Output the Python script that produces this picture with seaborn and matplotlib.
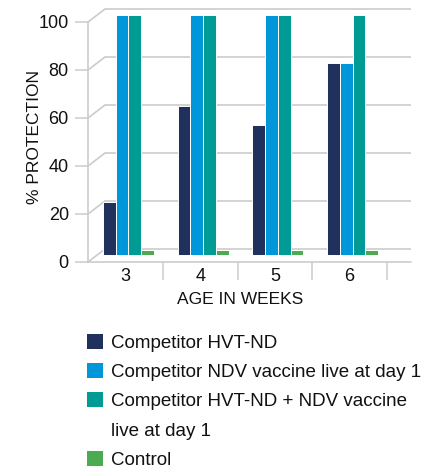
import seaborn as sns
import matplotlib.pyplot as plt
from matplotlib.transforms import offset_copy
from matplotlib.patches import Rectangle
import pandas as pd

# chart values
weeks = ["3", "4", "5", "6"]
series_names = [
    "Competitor HVT-ND",
    "Competitor NDV vaccine live at day 1",
    "Competitor HVT-ND + NDV vaccine live at day 1",
    "Control",
]
hvt_nd = [22, 62, 54, 80]
ndv_live = [100, 100, 100, 80]
hvt_nd_plus_ndv = [100, 100, 100, 100]
control = [2, 2, 2, 2]
# legend text as it is wrapped in the picture
legend_lines = [
    "Competitor HVT-ND",
    "Competitor NDV vaccine live at day 1",
    "Competitor HVT-ND + NDV vaccine",
    "live at day 1",
    "Control",
]
colors = ["#21315e", "#0096da", "#009b94", "#4caa50"]
yticks = [0, 20, 40, 60, 80, 100]

rows = []
for name, vals in zip(series_names, [hvt_nd, ndv_live, hvt_nd_plus_ndv, control]):
    for w, v in zip(weeks, vals):
        rows.append({"week": w, "series": name, "protection": v})
df = pd.DataFrame(rows)

sns.set_style("white")
plt.rcParams["font.family"] = ["Liberation Sans", "DejaVu Sans"]
grid_color = "#cccccc"
text_color = "#111111"

fig = plt.figure(figsize=(4.46, 4.71), dpi=100)
ax = fig.add_axes([88 / 446, 209 / 471, 299 / 446, 240 / 471])

sns.barplot(data=df, x="week", y="protection", hue="series", hue_order=series_names,
            palette=colors, width=0.68, edgecolor="white", linewidth=0.7,
            saturation=1, ax=ax, legend=True)

ax.set_xlim(-0.5, 3.5)
ax.set_ylim(0, 100)
for s in ax.spines.values():
    s.set_visible(False)

# bars sit a little behind the front plane
bar_plane = offset_copy(ax.transData, fig=fig, x=3, y=7, units="dots")
for p in ax.patches:
    p.set_transform(bar_plane)
    p.set_clip_on(False)

# back wall gridlines and their diagonal joins to the front axis
back = offset_copy(ax.transData, fig=fig, x=17, y=13, units="dots")
ax.hlines(yticks, -0.5, 3.59, colors=grid_color, lw=1.2, transform=back,
          clip_on=False, zorder=0)
for v in yticks:
    ax.annotate("", xy=(-0.5, v), xycoords=back, xytext=(-0.5, v),
                textcoords=ax.transData, annotation_clip=False,
                arrowprops=dict(arrowstyle="-", color=grid_color, lw=1.2,
                                shrinkA=0, shrinkB=0), zorder=0)
ax.plot([-0.5, -0.5], [0, 100], color=grid_color, lw=1.2, clip_on=False, zorder=0)
ax.plot([-0.5, 3.82], [0, 0], color=grid_color, lw=1.2, clip_on=False, zorder=0)

# ticks
ax.set_yticks(yticks)
ax.tick_params(axis="y", left=True, length=9.5, width=1.1, color=grid_color,
               pad=4.3, labelsize=13, labelcolor=text_color)
ax.set_xticks(range(len(weeks)))
ax.set_xticklabels(weeks)
ax.set_xticks([0.5, 1.5, 2.5, 3.5], minor=True)
ax.tick_params(axis="x", which="major", bottom=True, length=0, pad=4.5,
               labelsize=13, labelcolor=text_color)
ax.tick_params(axis="x", which="minor", bottom=True, length=13, width=1.1,
               color=grid_color)

ax.set_ylabel("% PROTECTION", fontsize=12.5, color=text_color)
ax.yaxis.set_label_coords(-0.154, 0.52)
ax.set_xlabel("AGE IN WEEKS", fontsize=12.5, color=text_color, va="top")
ax.xaxis.set_label_coords(0.508, -0.127)

# legend: the wrapped second line gets an empty handle so markers stay on first lines
handles, _ = ax.get_legend_handles_labels()
ax.get_legend().remove()
blank = Rectangle((0, 0), 1, 1, facecolor="none", edgecolor="none")
handles = handles[:3] + [blank] + handles[3:]
leg = fig.legend(handles, legend_lines, loc="upper left",
                 bbox_to_anchor=(87 / 446, 1 - 334 / 471), frameon=False,
                 prop={"size": 13.5}, handlelength=0.85, handleheight=0.85,
                 handletextpad=0.42, labelspacing=0.6, borderpad=0,
                 borderaxespad=0)
for t in leg.get_texts():
    t.set_color(text_color)
for h in leg.legend_handles:
    h.set_edgecolor("none")

fig.savefig("out.png", dpi=100)
